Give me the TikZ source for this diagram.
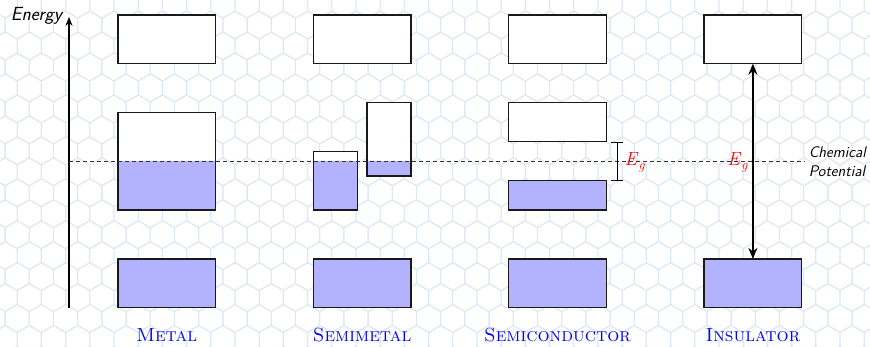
\documentclass[tikz,border=0pt]{standalone}
\usepackage{fontspec}
\usetikzlibrary{arrows.meta,fit}
\definecolor{hexline}{RGB}{218,231,244}
\colorlet{bandfill}{blue!30}
\colorlet{gapred}{red}
\newcommand{\gapsym}{\textit{E}\raisebox{-0.22em}{\fontsize{13.5}{15}\selectfont\textit{g}}}
\begin{document}
\begin{tikzpicture}[
  hexedge/.style={draw=hexline, line width=0.85pt},
  band/.style={draw=black!90, line width=1.3pt, fill=white, inner sep=0pt, outer sep=0pt},
  filled/.style={band, fill=bandfill},
  partial/.style={band, path picture={\fill[bandfill] (path picture bounding box.south west) rectangle (path picture bounding box.north east |- mu);}},
  axisline/.style={line width=1.2pt, -{Stealth[length=9pt,width=7pt]}},
  mudash/.style={line width=0.8pt, black!80, dash pattern=on 4pt off 3pt},
  gapbar/.style={line width=1.1pt, {Bar[width=12.7pt]}-{Bar[width=12.7pt]}},
  gaparrow/.style={line width=1.2pt, {Stealth[length=11pt,width=9pt]}-{Stealth[length=11pt,width=9pt]}},
  gaplabel/.style={text=gapred, inner sep=0pt, font=\fontsize{19}{23}\selectfont},
  kind/.style={text=blue, inner sep=0pt, font=\fontsize{19}{23}\selectfont\scshape},
]
\useasboundingbox (0,0) rectangle (870pt,346pt);
\fill[white] (0,0) rectangle (870pt,346pt);

% honeycomb backdrop
\begin{scope}
  \clip (0,0) rectangle (870pt,346pt);
  \foreach \j in {-7,...,11}{
    \foreach \k in {-1,...,36}{
      \pgfmathsetmacro{\hx}{29.3+24.2*\k-12.1*mod(abs(\j),2)}
      \pgfmathsetmacro{\hy}{132.3+20.96*\j}
      \draw[hexedge] (\hx pt,\hy pt) +(90:13.97pt) -- +(30:13.97pt) -- +(-30:13.97pt)
        -- +(-90:13.97pt) -- +(-150:13.97pt) -- +(150:13.97pt) -- cycle;
    }
  }
\end{scope}

\begin{scope}[shift={(69pt,38.3pt)}, x=48.85pt, y=48.8pt]
  \coordinate (origin) at (0,0);
  \coordinate (top) at (0,5.96);
  \coordinate (mu) at (0,3);
  \coordinate (mu end) at (15.05,3);

  % Metal
  \node[band,    fit={(1,5)(3,6)}] (m3) {};
  \node[partial, fit={(1,2)(3,4)}] (m2) {};
  \node[filled,  fit={(1,0)(3,1)}] (m1) {};
  % Semimetal
  \node[band,    fit={(5,5)(7,6)}] (sm4) {};
  \node[partial, fit={(5,2)(5.9,3.2)}] (sm2) {};
  \node[partial, fit={(6.1,2.7)(7,4.2)}] (sm3) {};
  \node[filled,  fit={(5,0)(7,1)}] (sm1) {};
  % Semiconductor
  \node[band,    fit={(9,5)(11,6)}] (sc4) {};
  \node[band,    fit={(9,3.4)(11,4.2)}] (sc3) {};
  \node[filled,  fit={(9,2)(11,2.6)}] (sc2) {};
  \node[filled,  fit={(9,0)(11,1)}] (sc1) {};
  % Insulator
  \node[band,    fit={(13,5)(15,6)}] (in2) {};
  \node[filled,  fit={(13,0)(15,1)}] (in1) {};

  % energy axis
  \draw[axisline] (origin) -- (top);
  \node[anchor=base east, inner sep=0pt, font=\fontsize{19}{23}\selectfont\sffamily\itshape]
    (energy) at (-0.14,5.88) {Energy};

  % chemical potential
  \draw[mudash] (mu) -- (mu end);
  \node[anchor=west, inner sep=0pt, align=left, font=\fontsize{15.4}{18.7}\selectfont\sffamily\itshape]
    (mulabel) at (15.14,2.99) {Chemical\\Potential};

  % band gaps
  \coordinate (gtop) at (11.22,3.4);
  \coordinate (gbot) at (11.22,2.6);
  \draw[gapbar] (gbot) -- (gtop);
  \node[gaplabel, anchor=base west] (eg1) at (11.37,2.91) {\gapsym};
  \draw[gaparrow] (in1.north) -- (in2.south);
  \node[gaplabel, anchor=base east] (eg2) at (13.9,2.91) {\gapsym};

  % material names
  \node[kind, anchor=base] (lmetal) at (2,-0.684) {Metal};
  \node[kind, anchor=base] (lsemimetal) at (6,-0.684) {Semimetal};
  \node[kind, anchor=base] (lsemicond) at (10,-0.684) {Semiconductor};
  \node[kind, anchor=base] (linsul) at (14,-0.684) {Insulator};
\end{scope}
\end{tikzpicture}
\end{document}
